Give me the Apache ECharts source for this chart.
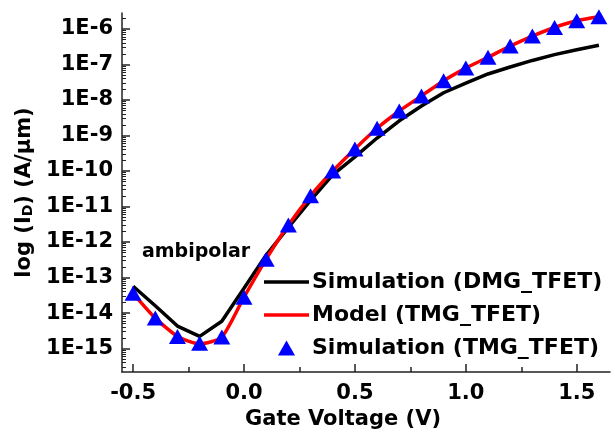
<!DOCTYPE html>
<html>
<head>
<meta charset="utf-8">
<script src="https://cdn.jsdelivr.net/npm/echarts@6.0.0/dist/echarts.min.js"></script>
<style>
html,body{margin:0;padding:0;background:#fff;}
#main{width:615px;height:435px;}
</style>
</head>
<body>
<div id="main"></div>
<script>
// gate voltage sweep (V)
var vg = [-0.5,-0.4,-0.3,-0.2,-0.1,0.0,0.1,0.2,0.3,0.4,0.5,0.6,0.7,0.8,0.9,1.0,1.1,1.2,1.3,1.4,1.5,1.6];

// drain current (A/um)
var dmgSim = [5.7e-14,1.6e-14,4.3e-15,2.2e-15,5.9e-15,5.0e-14,4.3e-13,2.6e-12,1.5e-11,7.8e-11,2.5e-10,8.5e-10,
              2.6e-9,6.8e-9,1.6e-8,3.0e-8,5.4e-8,8.5e-8,1.3e-7,1.9e-7,2.6e-7,3.5e-7];
var tmgModel = [3.6e-14,7.2e-15,2.2e-15,1.35e-15,2.1e-15,2.8e-14,3.3e-13,3.0e-12,2.0e-11,1.0e-10,4.2e-10,1.6e-9,
                4.9e-9,1.3e-8,3.5e-8,7.9e-8,1.6e-7,3.3e-7,6.3e-7,1.1e-6,1.7e-6,2.2e-6];
var tmgSim = [3.6e-14,7.2e-15,2.2e-15,1.4e-15,2.1e-15,2.8e-14,3.3e-13,3.0e-12,2.0e-11,1.0e-10,4.2e-10,1.6e-9,
              4.9e-9,1.3e-8,3.5e-8,7.9e-8,1.6e-7,3.3e-7,6.3e-7,1.1e-6,1.7e-6,2.2e-6];

var names = ['Simulation (DMG_TFET)', 'Model (TMG_TFET)', 'Simulation (TMG_TFET)'];

// axis ticks
var xMajor = [-0.5, 0, 0.5, 1.0, 1.5];
var xMinor = [-0.25, 0.25, 0.75, 1.25];
var decades = [-15,-14,-13,-12,-11,-10,-9,-8,-7,-6];

var yMin = -15.66, yMax = -5.55;
var yMinor = [];
for (var e = -16; e <= -6; e++) {
  for (var k = 2; k <= 9; k++) {
    var v = e + Math.log10(k);
    if (v > yMin && v < yMax) yMinor.push(v);
  }
}

function toLog(vals) {
  return vg.map(function (x, i) { return [x, Math.log10(vals[i])]; });
}

var font = 'DejaVu Sans';
var lineIcon = 'path://M0,0H45V3.5H0Z';
var triIcon = 'path://M8,0L16,14L0,14Z';

var chart = echarts.init(document.getElementById('main'));

var option = {
  animation: false,
  backgroundColor: '#fff',
  grid: { left: 122, right: 5, top: 13, bottom: 63 },
  legend: {
    orient: 'vertical',
    left: 259,
    top: 266,
    itemWidth: 45,
    itemHeight: 15,
    itemGap: 11,
    symbolKeepAspect: true,
    textStyle: { fontFamily: font, fontWeight: 'bold', fontSize: 22, color: '#000', padding: [0, 0, 0, -2] },
    data: [
      { name: names[0], icon: lineIcon },
      { name: names[1], icon: lineIcon },
      { name: names[2], icon: triIcon }
    ]
  },
  graphic: [{
    type: 'text',
    left: 142,
    top: 243,
    style: { text: 'ambipolar', font: 'bold 19px "DejaVu Sans"', fill: '#000' }
  }],
  xAxis: [{
    type: 'value',
    min: -0.55,
    max: 1.65,
    name: 'Gate Voltage (V)',
    nameLocation: 'middle',
    nameGap: 34,
    nameTextStyle: { fontFamily: font, fontWeight: 'bold', fontSize: 21, color: '#000', padding: [0, 46, 0, 0] },
    axisLine: { onZero: false, lineStyle: { color: '#222', width: 1.5 } },
    axisTick: { inside: true, length: 8, lineStyle: { color: '#222', width: 1.5 }, customValues: xMajor },
    axisLabel: {
      customValues: xMajor,
      margin: 11,
      fontFamily: font, fontWeight: 'bold', fontSize: 21, color: '#000',
      formatter: function (v) { return v.toFixed(1); }
    },
    splitLine: { show: false }
  }, {
    type: 'value',
    position: 'bottom',
    min: -0.55,
    max: 1.65,
    axisLine: { show: false, onZero: false },
    axisTick: { inside: true, length: 5, lineStyle: { color: '#222', width: 1.5 }, customValues: xMinor },
    axisLabel: { show: false },
    splitLine: { show: false }
  }],
  yAxis: [{
    type: 'value',
    min: yMin,
    max: yMax,
    name: '{n|log (I}{s|D}{n|) (A/μm)}',
    nameLocation: 'middle',
    nameGap: 86,
    nameTextStyle: {
      rich: {
        n: { fontFamily: font, fontWeight: 'bold', fontSize: 21, color: '#000' },
        s: { fontFamily: font, fontWeight: 'bold', fontSize: 14, color: '#000', verticalAlign: 'bottom', padding: [6, 0, 0, 0] }
      }
    },
    axisLine: { show: true, onZero: false, lineStyle: { color: '#222', width: 1.5 } },
    axisTick: { inside: true, length: 8, lineStyle: { color: '#222', width: 1.5 }, customValues: decades },
    axisLabel: {
      customValues: decades,
      margin: 9,
      fontFamily: font, fontWeight: 'bold', fontSize: 21, color: '#000',
      formatter: function (v) { return '1E' + Math.round(v); }
    },
    splitLine: { show: false }
  }, {
    type: 'value',
    position: 'left',
    min: yMin,
    max: yMax,
    axisLine: { show: false, onZero: false },
    axisTick: { inside: true, length: 4, lineStyle: { color: '#222', width: 1 }, customValues: yMinor },
    axisLabel: { show: false },
    splitLine: { show: false }
  }],
  series: [{
    name: names[0],
    type: 'line',
    data: toLog(dmgSim),
    symbol: 'none',
    lineStyle: { color: '#000', width: 3.5 },
    itemStyle: { color: '#000' },
    z: 2
  }, {
    name: names[1],
    type: 'line',
    data: toLog(tmgModel),
    symbol: 'none',
    smooth: 0.2,
    lineStyle: { color: '#ff0000', width: 3.5 },
    itemStyle: { color: '#ff0000' },
    z: 3
  }, {
    name: names[2],
    type: 'scatter',
    data: toLog(tmgSim),
    symbol: 'triangle',
    symbolSize: [17, 15],
    itemStyle: { color: '#0000ff', opacity: 1 },
    z: 4
  }]
};

chart.setOption(option);
</script>
</body>
</html>
